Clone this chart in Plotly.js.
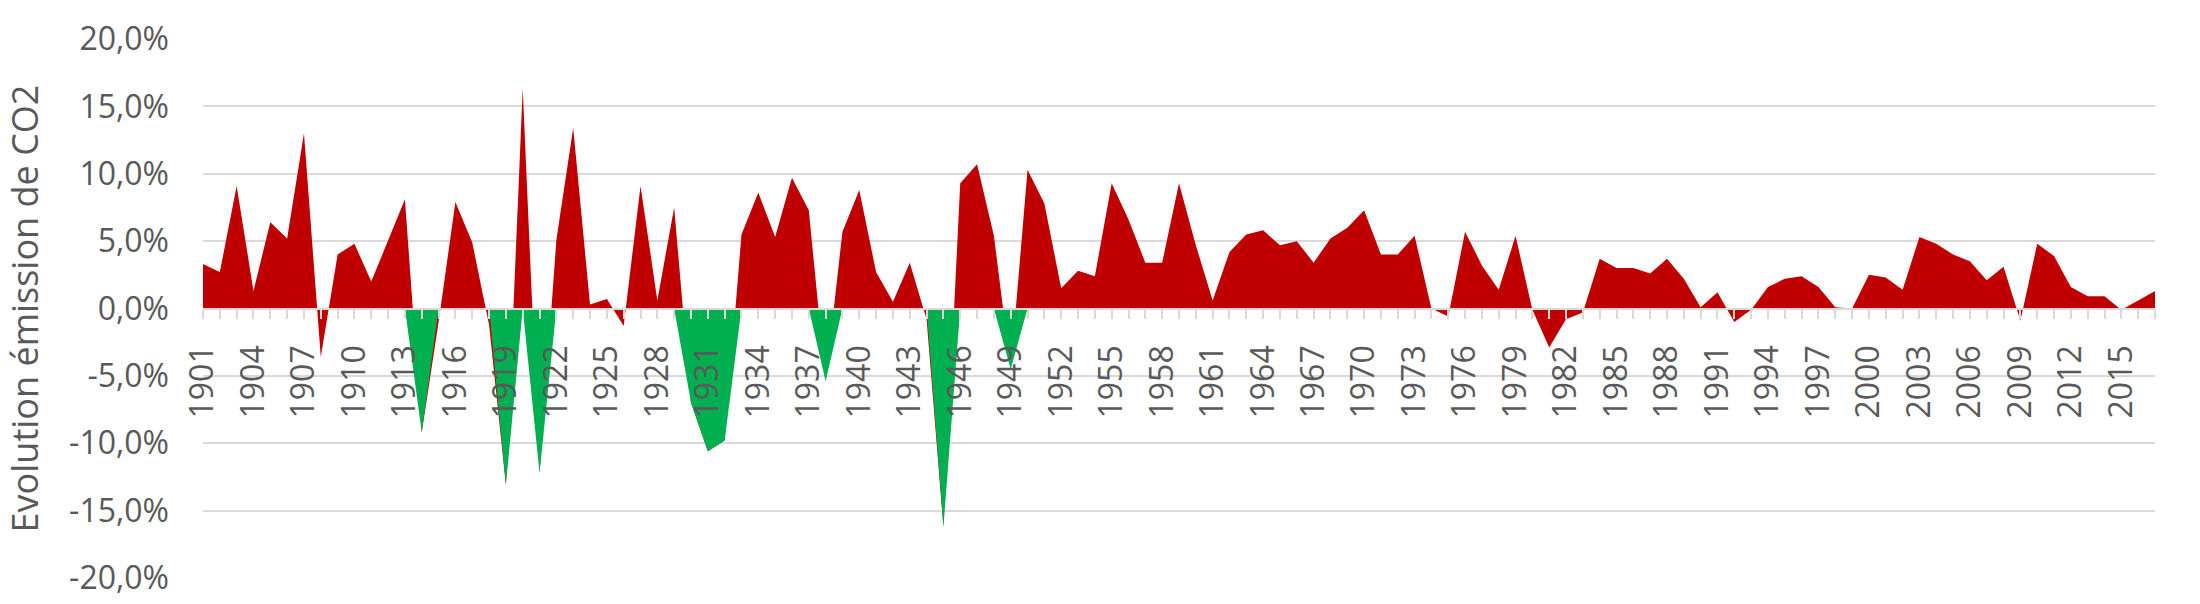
<!DOCTYPE html>
<html>
<head>
<meta charset="utf-8">
<script src="https://cdn.plot.ly/plotly-3.0.1.min.js"></script>
<style>
  html, body { margin: 0; padding: 0; background: #ffffff; }
  #chart { width: 2200px; height: 604px; }
</style>
</head>
<body>
<div id="chart"></div>
<script>
// ---- Data (annual change of CO2 emissions, in %) ----
const startYear = 1901;
const endYear = 2017;

const co2Change = [
  3.3, 2.7, 9.1, 1.3, 6.4, 5.2, 13.0, -3.6, 4.0, 4.8,        // 1901-1910
  2.0, 5.0, 8.1, -9.2, -1.0, 7.9, 4.9, -1.2, -13.1, 16.3,    // 1911-1920
  -12.2, 5.1, 13.4, 0.3, 0.7, -1.3, 9.1, 0.6, 7.5, -7.0,     // 1921-1930
  -10.6, -9.8, 5.5, 8.6, 5.3, 9.7, 7.3, -5.4, 5.7, 8.8,      // 1931-1940
  2.7, 0.5, 3.4, -0.8, -16.2, 9.3, 10.7, 5.4, -4.5, 10.3,    // 1941-1950
  7.8, 1.5, 2.8, 2.4, 9.3, 6.6, 3.4, 3.4, 9.3, 4.7,          // 1951-1960
  0.6, 4.2, 5.5, 5.8, 4.7, 5.0, 3.4, 5.2, 6.0, 7.3,          // 1961-1970
  4.0, 4.0, 5.4, 0.0, -0.6, 5.7, 3.2, 1.4, 5.4, -0.1,        // 1971-1980
  -2.9, -0.8, -0.3, 3.7, 3.0, 3.0, 2.6, 3.7, 2.2, 0.1,       // 1981-1990
  1.2, -1.0, -0.1, 1.6, 2.2, 2.4, 1.6, 0.1, 0.0, 2.5,        // 1991-2000
  2.3, 1.4, 5.3, 4.8, 4.0, 3.5, 2.1, 3.1, -0.9, 4.8,         // 2001-2010
  3.9, 1.6, 0.9, 0.9, -0.1, 0.6, 1.3                         // 2011-2017
];

// Years highlighted in green (crisis / war years)
const crisisYears = [1914, 1919, 1921, 1930, 1931, 1932, 1938, 1945, 1949];

// Axis tick values / labels
const yTickVals = [-20, -15, -10, -5, 0, 5, 10, 15, 20];
const yTickText = ['-20,0%', '-15,0%', '-10,0%', '-5,0%', '0,0%', '5,0%', '10,0%', '15,0%', '20,0%'];
const xLabelStep = 3;

// ---- Build ----
const years = [];
for (let y = startYear; y <= endYear; y++) years.push(y);
const crisisSeries = years.map((y, i) => crisisYears.includes(y) ? co2Change[i] : 0);
const xTickText = years.map(y => ((y - startYear) % xLabelStep === 0) ? String(y) : '');

const FONT = 'Open Sans, Liberation Sans, sans-serif';
const TXT = '#595959';
const GRID = '#d9d9d9';

const traces = [
  {
    type: 'scatter', mode: 'lines', x: years, y: co2Change,
    fill: 'tozeroy', fillcolor: '#C00000',
    line: { color: '#C00000', width: 0 },
    hoverinfo: 'skip', showlegend: false
  },
  {
    type: 'scatter', mode: 'lines', x: years, y: crisisSeries,
    fill: 'tozeroy', fillcolor: '#00B050',
    line: { color: '#00B050', width: 0 },
    hoverinfo: 'skip', showlegend: false
  }
];

const layout = {
  width: 2200, height: 604,
  margin: { l: 203, r: 45, t: 39, b: 26, pad: 0 },
  paper_bgcolor: '#ffffff', plot_bgcolor: '#ffffff',
  showlegend: false,
  font: { family: FONT, color: TXT },
  xaxis: {
    type: 'linear', range: [startYear, endYear],
    tickmode: 'array', tickvals: years, ticktext: xTickText,
    tickangle: -90,
    ticks: 'outside', ticklen: 9, tickwidth: 2, tickcolor: GRID,
    ticklabelstandoff: 14,
    tickfont: { family: FONT, size: 32, color: TXT },
    showgrid: false, zeroline: false,
    showline: true, linecolor: GRID, linewidth: 2,
    anchor: 'free', position: 0.5,
    automargin: false, fixedrange: true
  },
  yaxis: {
    range: [-20, 20],
    tickmode: 'array', tickvals: yTickVals, ticktext: yTickText,
    ticks: '', ticklabelstandoff: 33,
    tickfont: { family: FONT, size: 32, color: TXT },
    showgrid: true, gridcolor: GRID, gridwidth: 2,
    zeroline: false, showline: false,
    title: { text: 'Evolution émission de CO2', font: { family: FONT, size: 36, color: TXT }, standoff: 20 },
    automargin: false, fixedrange: true
  }
};

Plotly.newPlot('chart', traces, layout, { displayModeBar: false, staticPlot: true });
</script>
</body>
</html>
